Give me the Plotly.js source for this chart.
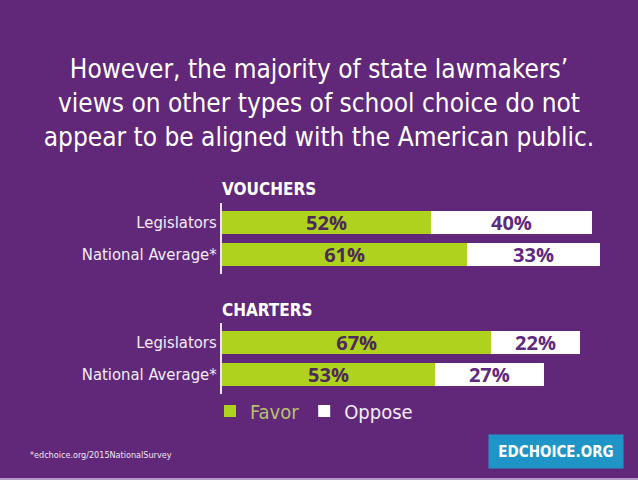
<!DOCTYPE html>
<html>
<head>
<meta charset="utf-8">
<script src="https://cdn.plot.ly/plotly-3.0.1.min.js"></script>
<style>
  html, body { margin: 0; padding: 0; background: #612879; }
  #chart { width: 638px; height: 480px; }
</style>
</head>
<body>
<div id="chart"></div>
<script>
// Survey groups (bottom-to-top order within each panel)
const groups = ["National Average*", "Legislators"];

// Vouchers: share who favor / oppose (%)
const voucherFavor = [61, 52];
const voucherOppose = [33, 40];

// Charters: share who favor / oppose (%)
const charterFavor = [53, 67];
const charterOppose = [27, 22];

const seriesNames = ["Favor", "Oppose"];
const panelTitles = ["VOUCHERS", "CHARTERS"];

const BG = "#612879";
const GREEN = "#afd21e";
const WHITE = "#ffffff";
const NARROW = "'Liberation Sans Narrow', 'DejaVu Sans Condensed', 'DejaVu Sans', sans-serif";
const ROUND = "'Open Sans', 'Noto Sans', sans-serif";

const pct = v => v.map(x => x + "%");

function barTrace(values, name, color, textColor, yaxis, xaxis, legend) {
  return {
    type: "bar",
    orientation: "h",
    x: values,
    y: groups,
    name: name,
    xaxis: xaxis,
    yaxis: yaxis,
    marker: { color: color, line: { width: 0 } },
    text: pct(values),
    textposition: "inside",
    insidetextanchor: "middle",
    constraintext: "none",
    textfont: { family: ROUND, size: 20, color: textColor, weight: 700 },
    hoverinfo: "skip",
    showlegend: legend,
    legendgroup: name
  };
}

const traces = [
  barTrace(voucherFavor, "<span style='color:#b8c06e'>" + seriesNames[0] + "</span>", GREEN, "#4e2a5a", "y", "x", true),
  barTrace(voucherOppose, seriesNames[1], WHITE, "#5e2a7e", "y", "x", true),
  barTrace(charterFavor, seriesNames[0], GREEN, "#4e2a5a", "y2", "x2", false),
  barTrace(charterOppose, seriesNames[1], WHITE, "#5e2a7e", "y2", "x2", false)
];

const xCommon = {
  range: [0, 100],
  domain: [222 / 638, 624 / 638],
  showgrid: false, zeroline: false, showline: false,
  showticklabels: false, ticks: "", fixedrange: true
};
const yCommon = {
  type: "category",
  range: [-0.6, 1.6],
  showgrid: false, zeroline: false,
  showline: true, linecolor: "#ece4f0", linewidth: 2,
  ticks: "", ticklabelstandoff: 0,
  tickfont: { family: NARROW, size: 16.5, color: "#f3ecf6" },
  fixedrange: true
};

const layout = {
  width: 638,
  height: 480,
  paper_bgcolor: BG,
  plot_bgcolor: "rgba(0,0,0,0)",
  margin: { l: 0, r: 0, t: 0, b: 0 },
  barmode: "stack",
  bargap: 0.28,
  showlegend: true,
  title: {
    text: "However, the majority of state lawmakers’<br>views on other types of school choice do not<br>appear to be aligned with the American public.",
    font: { family: NARROW, size: 26, color: "#ffffff" },
    x: 0.5, xanchor: "center",
    y: 1 - 78 / 480, yanchor: "middle"
  },
  xaxis: Object.assign({}, xCommon, { anchor: "y" }),
  yaxis: Object.assign({}, yCommon, { domain: [1 - 273.7 / 480, 1 - 203.3 / 480], anchor: "x" }),
  xaxis2: Object.assign({}, xCommon, { anchor: "y2" }),
  yaxis2: Object.assign({}, yCommon, { domain: [1 - 393.7 / 480, 1 - 323.3 / 480], anchor: "x2" }),
  legend: {
    orientation: "h",
    x: 210 / 638, xanchor: "left",
    y: 1 - 411 / 480, yanchor: "middle",
    font: { family: NARROW, size: 20, color: "#f3ecf6" },
    bgcolor: "rgba(0,0,0,0)",
    itemclick: false, itemdoubleclick: false,
    traceorder: "normal",
    itemwidth: 30
  },
  annotations: [
    {
      text: "<b>" + panelTitles[0] + "</b>", xref: "paper", yref: "paper",
      x: 220 / 638, y: 1 - 189 / 480, xanchor: "left", yanchor: "middle",
      showarrow: false, font: { family: NARROW, size: 17, color: "#ffffff" }
    },
    {
      text: "<b>" + panelTitles[1] + "</b>", xref: "paper", yref: "paper",
      x: 220 / 638, y: 1 - 310 / 480, xanchor: "left", yanchor: "middle",
      showarrow: false, font: { family: NARROW, size: 17, color: "#ffffff" }
    },
    {
      text: "*edchoice.org/2015NationalSurvey", xref: "paper", yref: "paper",
      x: 28 / 638, y: 1 - 455 / 480, xanchor: "left", yanchor: "middle",
      showarrow: false, font: { family: NARROW, size: 9, color: "#eee6f2" }
    },
    {
      text: "<b>EDCHOICE.ORG</b>", xref: "paper", yref: "paper",
      x: 556 / 638, y: 1 - 451.5 / 480, xanchor: "center", yanchor: "middle",
      showarrow: false, font: { family: NARROW, size: 15, color: "#ffffff" },
      bgcolor: "#1e95c6", borderpad: 0, width: 134, height: 33
    }
  ],
  shapes: [
    {
      type: "line", xref: "paper", yref: "paper",
      x0: 0, x1: 1, y0: 1 / 480, y1: 1 / 480,
      line: { color: "#b49ac6", width: 2 }
    }
  ]
};

Plotly.newPlot("chart", traces, layout, { displayModeBar: false, staticPlot: true });
</script>
</body>
</html>
